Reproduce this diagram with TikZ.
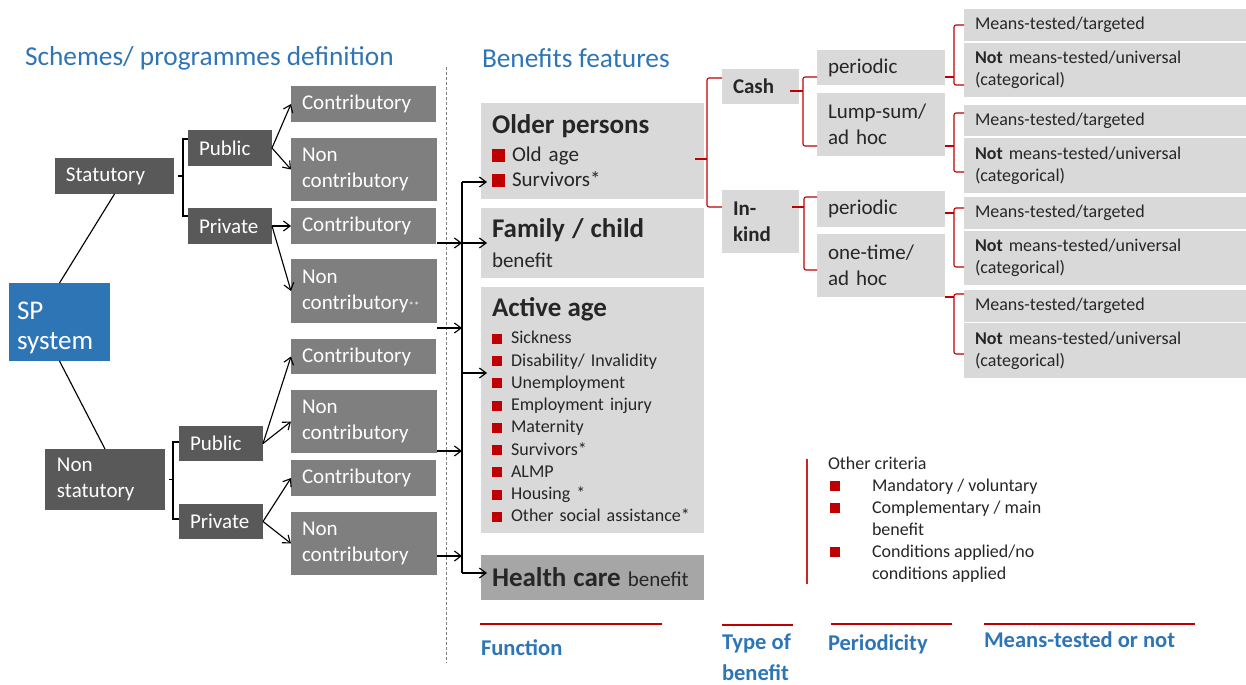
\documentclass[tikz,border=0pt]{standalone}
\usepackage{fontspec}
\setmainfont{Carlito}
\usetikzlibrary{arrows.meta,calc}
\definecolor{dkg}{HTML}{595959}
\definecolor{mdg}{HTML}{7F7F7F}
\definecolor{ltg}{HTML}{D9D9D9}
\definecolor{hcg}{HTML}{A6A6A6}
\definecolor{spblue}{HTML}{2E75B6}
\definecolor{spred}{HTML}{C00000}
\definecolor{txt}{HTML}{262626}
\newcommand\fsA{\fontsize{15.75}{19.5}\selectfont}
\newcommand\fsSP{\fontsize{20.25}{22.5}\selectfont}
\newcommand\fsB{\fontsize{20.25}{22.5}\selectfont\bfseries}
\newcommand\fsS{\fontsize{13.5}{16.5}\selectfont}
\newcommand\fsL{\fontsize{13.5}{16.7}\selectfont}
\newcommand\sqA{\textcolor{spred}{\rule{9.4pt}{9.4pt}}\hspace{5.6pt}}
\newcommand\sqB{\textcolor{spred}{\rule{7.5pt}{7.5pt}}\hspace{6.8pt}}
\newcommand\sqC{\makebox[33pt][l]{\hspace{1.5pt}\textcolor{spred}{\rule[0.7pt]{7.5pt}{7.5pt}}}}
\begin{document}
\begin{tikzpicture}[x=0.75pt,y=-0.75pt,
  every node/.style={inner sep=0pt,outer sep=0pt},
  bx/.code 2 args={%
    \pgfmathsetmacro\bxw{#1*0.75}%
    \pgfmathsetmacro\bxh{#2*0.75}%
    \edef\bxtmp{\noexpand\tikzset{minimum width=\bxw pt,minimum height=\bxh pt,text width=\bxw pt}}\bxtmp},
  box/.style={anchor=north west,inner xsep=0pt,inner ysep=0pt,execute at begin node={\leftskip=8.25pt}},
  dk/.style={box,fill=dkg,text=white,font=\fsA},
  md/.style={box,fill=mdg,text=white,font=\fsA},
  spb/.style={box,fill=spblue,text=white,font=\fsSP,execute at begin node={\leftskip=6pt}},
  lt/.style={box,fill=ltg,text=txt,font=\fsA},
  mt/.style={box,fill=ltg,text=txt,font=\fsS},
  ttl/.style={anchor=base west,text=spblue,font=\fontsize{20.5}{24}\selectfont},
  lbl/.style={anchor=base west,text=spblue,font=\fontsize{16.9}{23.25}\selectfont\bfseries},
  ln/.style={draw=black,line width=0.85pt},
  arr/.style={ln,-{Straight Barb[length=5pt,width=7.5pt]}},
  rbr/.style={draw=spred,line width=0.8pt,rounded corners=1.5pt},
  redline/.style={draw=spred,line width=1.5pt}
]
\useasboundingbox (0,0) rectangle (1246,685);

% titles
\node[ttl] (t1) at (25,65) {Schemes/ programmes definition};
\node[ttl] (t2) at (482,68) {Benefits features};

% dashed separator
\draw[draw=mdg,line width=0.6pt,dash pattern=on 2.25pt off 1.5pt] (446,67) -- (446,663);

% left part
\node[dk,bx={119}{36}] (stat) at (55,158) {Statutory};
\node[dk,bx={84}{36}] (pubA) at (188,130) {Public};
\node[dk,bx={84}{36}] (privA) at (188,208) {Private};
\node[md,bx={145}{36}] (c1) at (291,86) {Contributory};
\node[md,bx={146}{63}] (nc1) at (291,138) {Non\\contributory};
\node[md,bx={145}{36}] (c2) at (291,208) {Contributory};
\node[md,bx={146}{64}] (nc2) at (291,259) {Non\\contributory{\fontsize{8}{8}\selectfont**}};
\node[spb,bx={101}{78}] (sp) at (9,283) {\rule{0pt}{22pt}SP\\system};
\node[md,bx={145}{35}] (c3) at (291,339) {Contributory};
\node[md,bx={146}{63}] (nc3) at (291,390) {Non\\contributory};
\node[md,bx={145}{36}] (c4) at (291,460) {Contributory};
\node[md,bx={146}{63}] (nc4) at (291,512) {Non\\contributory};
\node[dk,bx={120}{61},execute at begin node={\leftskip=9pt}] (nst) at (45,449) {Non\\statutory};
\node[dk,bx={84}{35}] (pubB) at (179,426) {Public};
\node[dk,bx={84}{35}] (privB) at (179,504) {Private};

\draw[ln] (sp.north) -- (stat.south);
\draw[ln] (sp.south) -- (nst.north);

\draw[ln] ($(stat.east)+(4,0)$) -- ++(5,0);
\draw[ln] ($(pubA.west)+(0,-9)$) -- ++(-5,0) -- ($(privA.west)+(-5,-10)$) -- ++(5,0);
\draw[ln] ($(nst.east)+(4,0)$) -- ++(4,0);
\draw[ln] ($(pubB.west)+(0,-1.5)$) -- ++(-6,0) -- ($(privB.west)+(-6,-2.5)$) -- ++(6,0);

\draw[arr] (pubA.east) -- (c1.west);
\draw[arr] (pubA.east) -- (nc1.west);
\draw[arr] (privA.east) -- (c2.west);
\draw[arr] (privA.east) -- (nc2.west);
\draw[arr] (pubB.east) -- (c3.west);
\draw[arr] (pubB.east) -- (nc3.west);
\draw[arr] (privB.east) -- (c4.west);
\draw[arr] (privB.east) -- (nc4.west);

% middle part
\node[lt,bx={223}{96},font=\fontsize{15.75}{18.75}\selectfont] (older) at (481,103) {{\fsB Older persons}\\[2.25pt]\sqA Old age\\\sqA Survivors*};
\node[lt,bx={223}{70}] (fam) at (481,208) {{\fsB Family / child}\\[3pt]benefit};
\node[lt,bx={223}{246},font=\fsL] (act) at (481,287) {{\fsB Active age}\\[3.5pt]\sqB Sickness\\\sqB Disability/ Invalidity\\\sqB Unemployment\\\sqB Employment injury\\\sqB Maternity\\\sqB Survivors*\\\sqB ALMP\\\sqB Housing *\\\sqB Other social assistance*};
\node[lt,fill=hcg,bx={223}{45}] (hc) at (481,555) {{\fsB Health care} benefit};

\coordinate (busT) at (462,182);
\coordinate (busB) at (462,573);
\draw[ln] (busT) -- (busB);
\draw[arr] (busT) -- ($(older.south west)+(6,-17)$);
\draw[arr] (busB) -- ($(hc.west)+(6,-4.5)$);
\draw[arr] ($(c2.south east)+(1,-1)$) -- ++(25,0);
\draw[arr] ($(c2.south east)+(26,-1)$) -- ($(fam.west)+(6,0)$);
\draw[arr] ($(nc2.south east)+(0,5)$) -- ++(25,0);
\draw[arr] ($(act.north west)+(-19,86)$) -- ++(25,0);
\draw[arr] ($(nc3.south east)+(0,-2)$) -- ++(25,0);
\draw[arr] ($(nc4.east)+(0,12.5)$) -- ++(25,0);

% right part
\node[lt,bx={77}{35},font=\fsA\bfseries] (cash) at (722,69) {Cash};
\node[lt,bx={77}{63},font=\fsA\bfseries] (inkind) at (722,190) {In-\\kind};
\node[lt,bx={128}{35}] (per1) at (817,50) {periodic};
\node[lt,bx={128}{63}] (lump) at (817,93) {Lump-sum/\\ad hoc};
\node[lt,bx={128}{36}] (per2) at (817,191) {periodic};
\node[lt,bx={128}{63}] (one) at (817,234) {one-time/\\ad hoc};
\node[mt,bx={282}{32}] (m1) at (964,9) {Means-tested/targeted};
\node[mt,bx={282}{54}] (n1) at (964,43) {\textbf{Not} means-tested/universal\\(categorical)};
\node[mt,bx={282}{31}] (m2) at (964,105) {Means-tested/targeted};
\node[mt,bx={282}{55}] (n2) at (964,138) {\textbf{Not} means-tested/universal\\(categorical)};
\node[mt,bx={282}{32}] (m3) at (964,197) {Means-tested/targeted};
\node[mt,bx={282}{54}] (n3) at (964,231) {\textbf{Not} means-tested/universal\\(categorical)};
\node[mt,bx={282}{32}] (m4) at (964,290) {Means-tested/targeted};
\node[mt,bx={282}{55}] (n4) at (964,323) {\textbf{Not} means-tested/universal\\(categorical)};

% red braces
\draw[rbr] ($(older.east)+(-9,8)$) -- ++(12,0);
\draw[rbr] ($(cash.west)+(0,-8.5)$) -- ++(-15,0) -- ($(inkind.west)+(-15,-14.5)$) -- ++(15,0);
\draw[rbr] ($(cash.east)+(-9,4.5)$) -- ++(13,0);
\draw[rbr] ($(per1.west)+(0,9.5)$) -- ++(-14,0) -- ($(lump.west)+(-14,21.5)$) -- ++(14,0);
\draw[rbr] ($(inkind.east)+(-7,-14.5)$) -- ++(12,0);
\draw[rbr] ($(per2.west)+(0,-12)$) -- ++(-13,0) -- ($(one.west)+(-13,4.5)$) -- ++(13,0);
\draw[rbr] ($(per1.east)+(0,9.5)$) -- ++(9,0);
\draw[rbr] (m1.west) -- ++(-10,0) -- ($(n1.west)+(-10,15)$) -- ++(10,0);
\draw[rbr] ($(lump.east)+(0,21.5)$) -- ++(9,0);
\draw[rbr] ($(m2.west)+(0,-7.5)$) -- ++(-10,0) -- ($(n2.west)+(-10,6.5)$) -- ++(10,0);
\draw[rbr] ($(per2.east)+(0,4)$) -- ++(9,0);
\draw[rbr] ($(m3.west)+(0,-5)$) -- ++(-10,0) -- ($(n3.west)+(-10,9)$) -- ++(10,0);
\draw[rbr] ($(one.east)+(0,31.5)$) -- ++(9,0);
\draw[rbr] ($(m4.west)+(0,-12)$) -- ++(-10,0) -- ($(n4.west)+(-10,3.5)$) -- ++(10,0);

% other criteria
\draw[draw=spred!85,line width=1pt] (807,459) -- (807,584);
\node[anchor=north west,align=left,font=\fsS,text=txt] (oc) at (828,457) {Other criteria\\\sqC Mandatory / voluntary\\\sqC Complementary / main\\\makebox[33pt]{}benefit\\\sqC Conditions applied/no\\\makebox[33pt]{}conditions applied};

% bottom labels
\draw[redline] (480,624) -- (662,624);
\draw[redline] (722,625) -- (793,625);
\draw[redline] (831,624) -- (952,624);
\draw[redline] (984,624) -- (1195,624);
\node[lbl] (fn) at (481,655) {Function};
\node[lbl,anchor=north west,align=left] (tob) at (722,634) {Type of\\benefit};
\node[lbl] (prd) at (828,650) {Periodicity};
\node[lbl] (mtn) at (984,647) {Means-tested or not};
\end{tikzpicture}
\end{document}
